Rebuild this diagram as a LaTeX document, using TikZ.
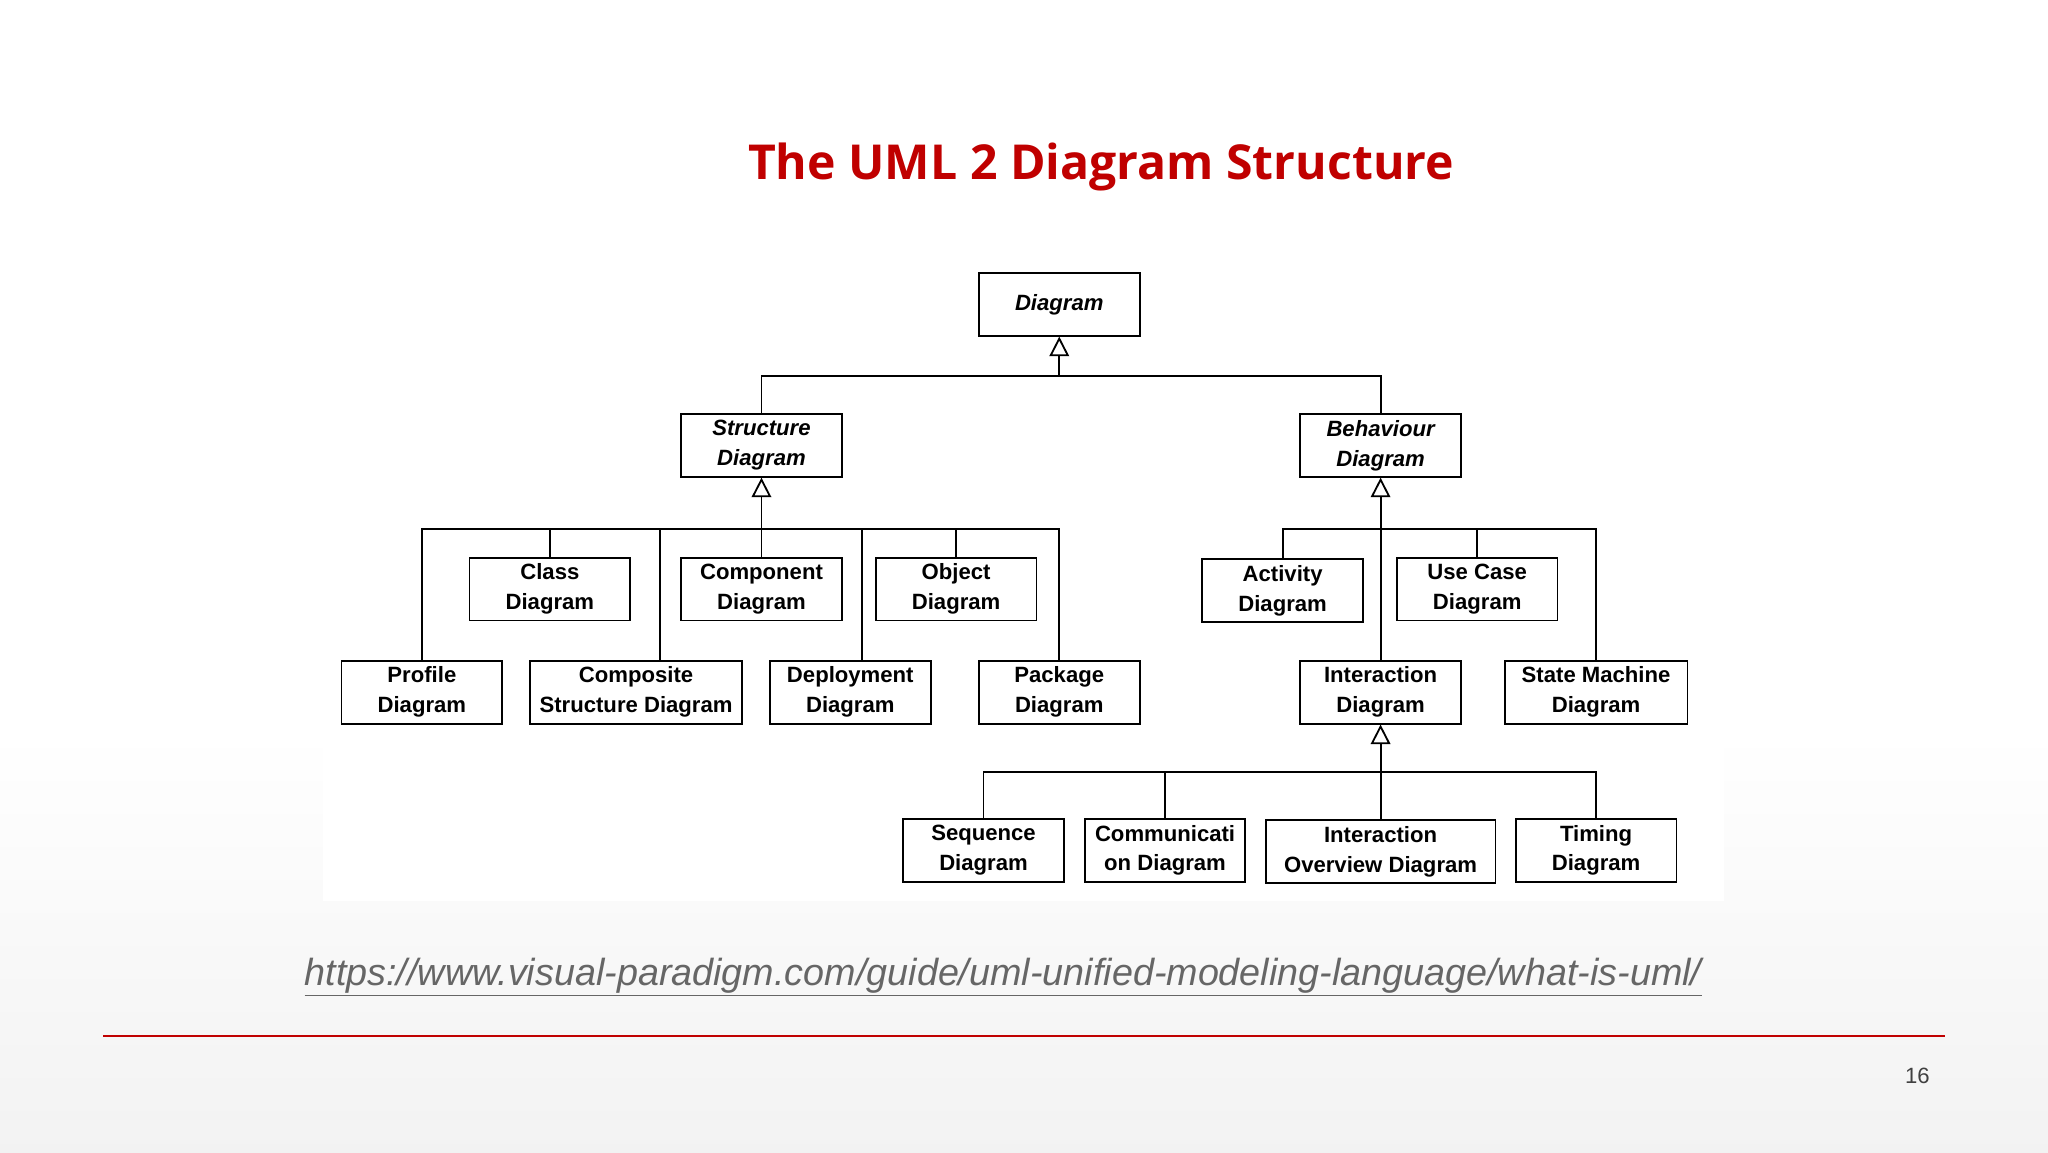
\documentclass[tikz,border=0pt]{standalone}
\usepackage{fontspec}
\setmainfont{Liberation Sans}
\newfontfamily\titlefont{Open Sans}
\usetikzlibrary{arrows.meta}
\definecolor{tred}{HTML}{C00000}
\begin{document}
\begin{tikzpicture}[x=1bp,y=-1bp,
  box/.style={draw=black,line width=1.4bp,minimum height=48bp,minimum width=123bp,inner sep=0pt,align=center,
    font=\fontsize{17}{23}\selectfont\bfseries},
  ib/.style={box,font=\fontsize{17}{23}\selectfont\bfseries\itshape},
  ln/.style={line width=1.4bp},
  inh/.style={ln,-{Triangle[open,length=15bp,width=15bp]}}]
\useasboundingbox (0,0) rectangle (1568,882);
\fill[white] (0,0) rectangle (1568,560);
\shade[top color=white,bottom color=black!5] (0,560) rectangle (1568,882);
\fill[white] (247,190) rectangle (1320,690);
\node[font=\titlefont\fontsize{37}{44}\selectfont\bfseries,text=tred] (title) at (843,128) {The UML 2 Diagram Structure};
% nodes
\node[ib] (diag) at (811,233) {Diagram};
\node[ib] (struct) at (583,341) {Structure\\Diagram};
\node[ib] (behav) at (1057,341) {Behaviour\\Diagram};
\node[box] (class) at (421,451) {Class\\Diagram};
\node[box] (comp) at (583,451) {Component\\Diagram};
\node[box] (obj) at (732,451) {Object\\Diagram};
\node[box] (prof) at (323,530) {Profile\\Diagram};
\node[box,minimum width=162bp] (cs) at (487,530) {Composite\\Structure Diagram};
\node[box] (dep) at (651,530) {Deployment\\Diagram};
\node[box] (pkg) at (811,530) {Package\\Diagram};
\node[box] (act) at (982,452) {Activity\\Diagram};
\node[box] (uc) at (1131,451) {Use Case\\Diagram};
\node[box] (inter) at (1057,530) {Interaction\\Diagram};
\node[box,minimum width=140bp] (sm) at (1222,530) {State Machine\\Diagram};
\node[box] (seq) at (753,651) {Sequence\\Diagram};
\node[box] (comm) at (892,651) {Communicati\\on Diagram};
\node[box,minimum width=176bp] (io) at (1057,652) {Interaction\\Overview Diagram};
\node[box] (tim) at (1222,651) {Timing\\Diagram};
% level 1
\coordinate (j0) at (811,288);
\draw[ln] (struct.north) |- (j0) -| (behav.north);
\draw[inh] (j0) -- (diag.south);
% structure
\coordinate (j1) at (583,405);
\draw[ln] (prof.north) |- (pkg.north |- j1) -- (pkg.north);
\draw[ln] (class.north) -- (class.north |- j1);
\draw[ln] (comp.north) -- (j1);
\draw[ln] (obj.north) -- (obj.north |- j1);
\draw[ln] (505,506) coordinate (csn) -- (csn |- j1);
\draw[ln] (660,506) coordinate (depn) -- (depn |- j1);
\draw[inh] (j1) -- (struct.south);
% behaviour
\coordinate (j2) at (1057,405);
\draw[ln] (act.north) |- (sm.north |- j2) -- (sm.north);
\draw[ln] (uc.north) -- (uc.north |- j2);
\draw[inh] (inter.north) -- (behav.south);
% interaction
\coordinate (j3) at (1057,591);
\draw[ln] (seq.north) |- (tim.north |- j3) -- (tim.north);
\draw[ln] (comm.north) -- (comm.north |- j3);
\draw[ln] (io.north) -- (j3);
\draw[inh] (j3) -- (inter.south);
% footer
\node[font=\fontsize{29}{34}\selectfont\itshape,text=black!60] (url) at (768,748)
  {\underline{https://www.visual-paradigm.com/guide/uml-unified-modeling-language/what-is-uml/}};
\draw[tred,line width=1.3bp] (79,793) coordinate (ra) -- (1489,793) coordinate (rb);
\node[font=\fontsize{17}{20}\selectfont,text=black!75] (pg) at (1468,824) {16};
\end{tikzpicture}
\end{document}
